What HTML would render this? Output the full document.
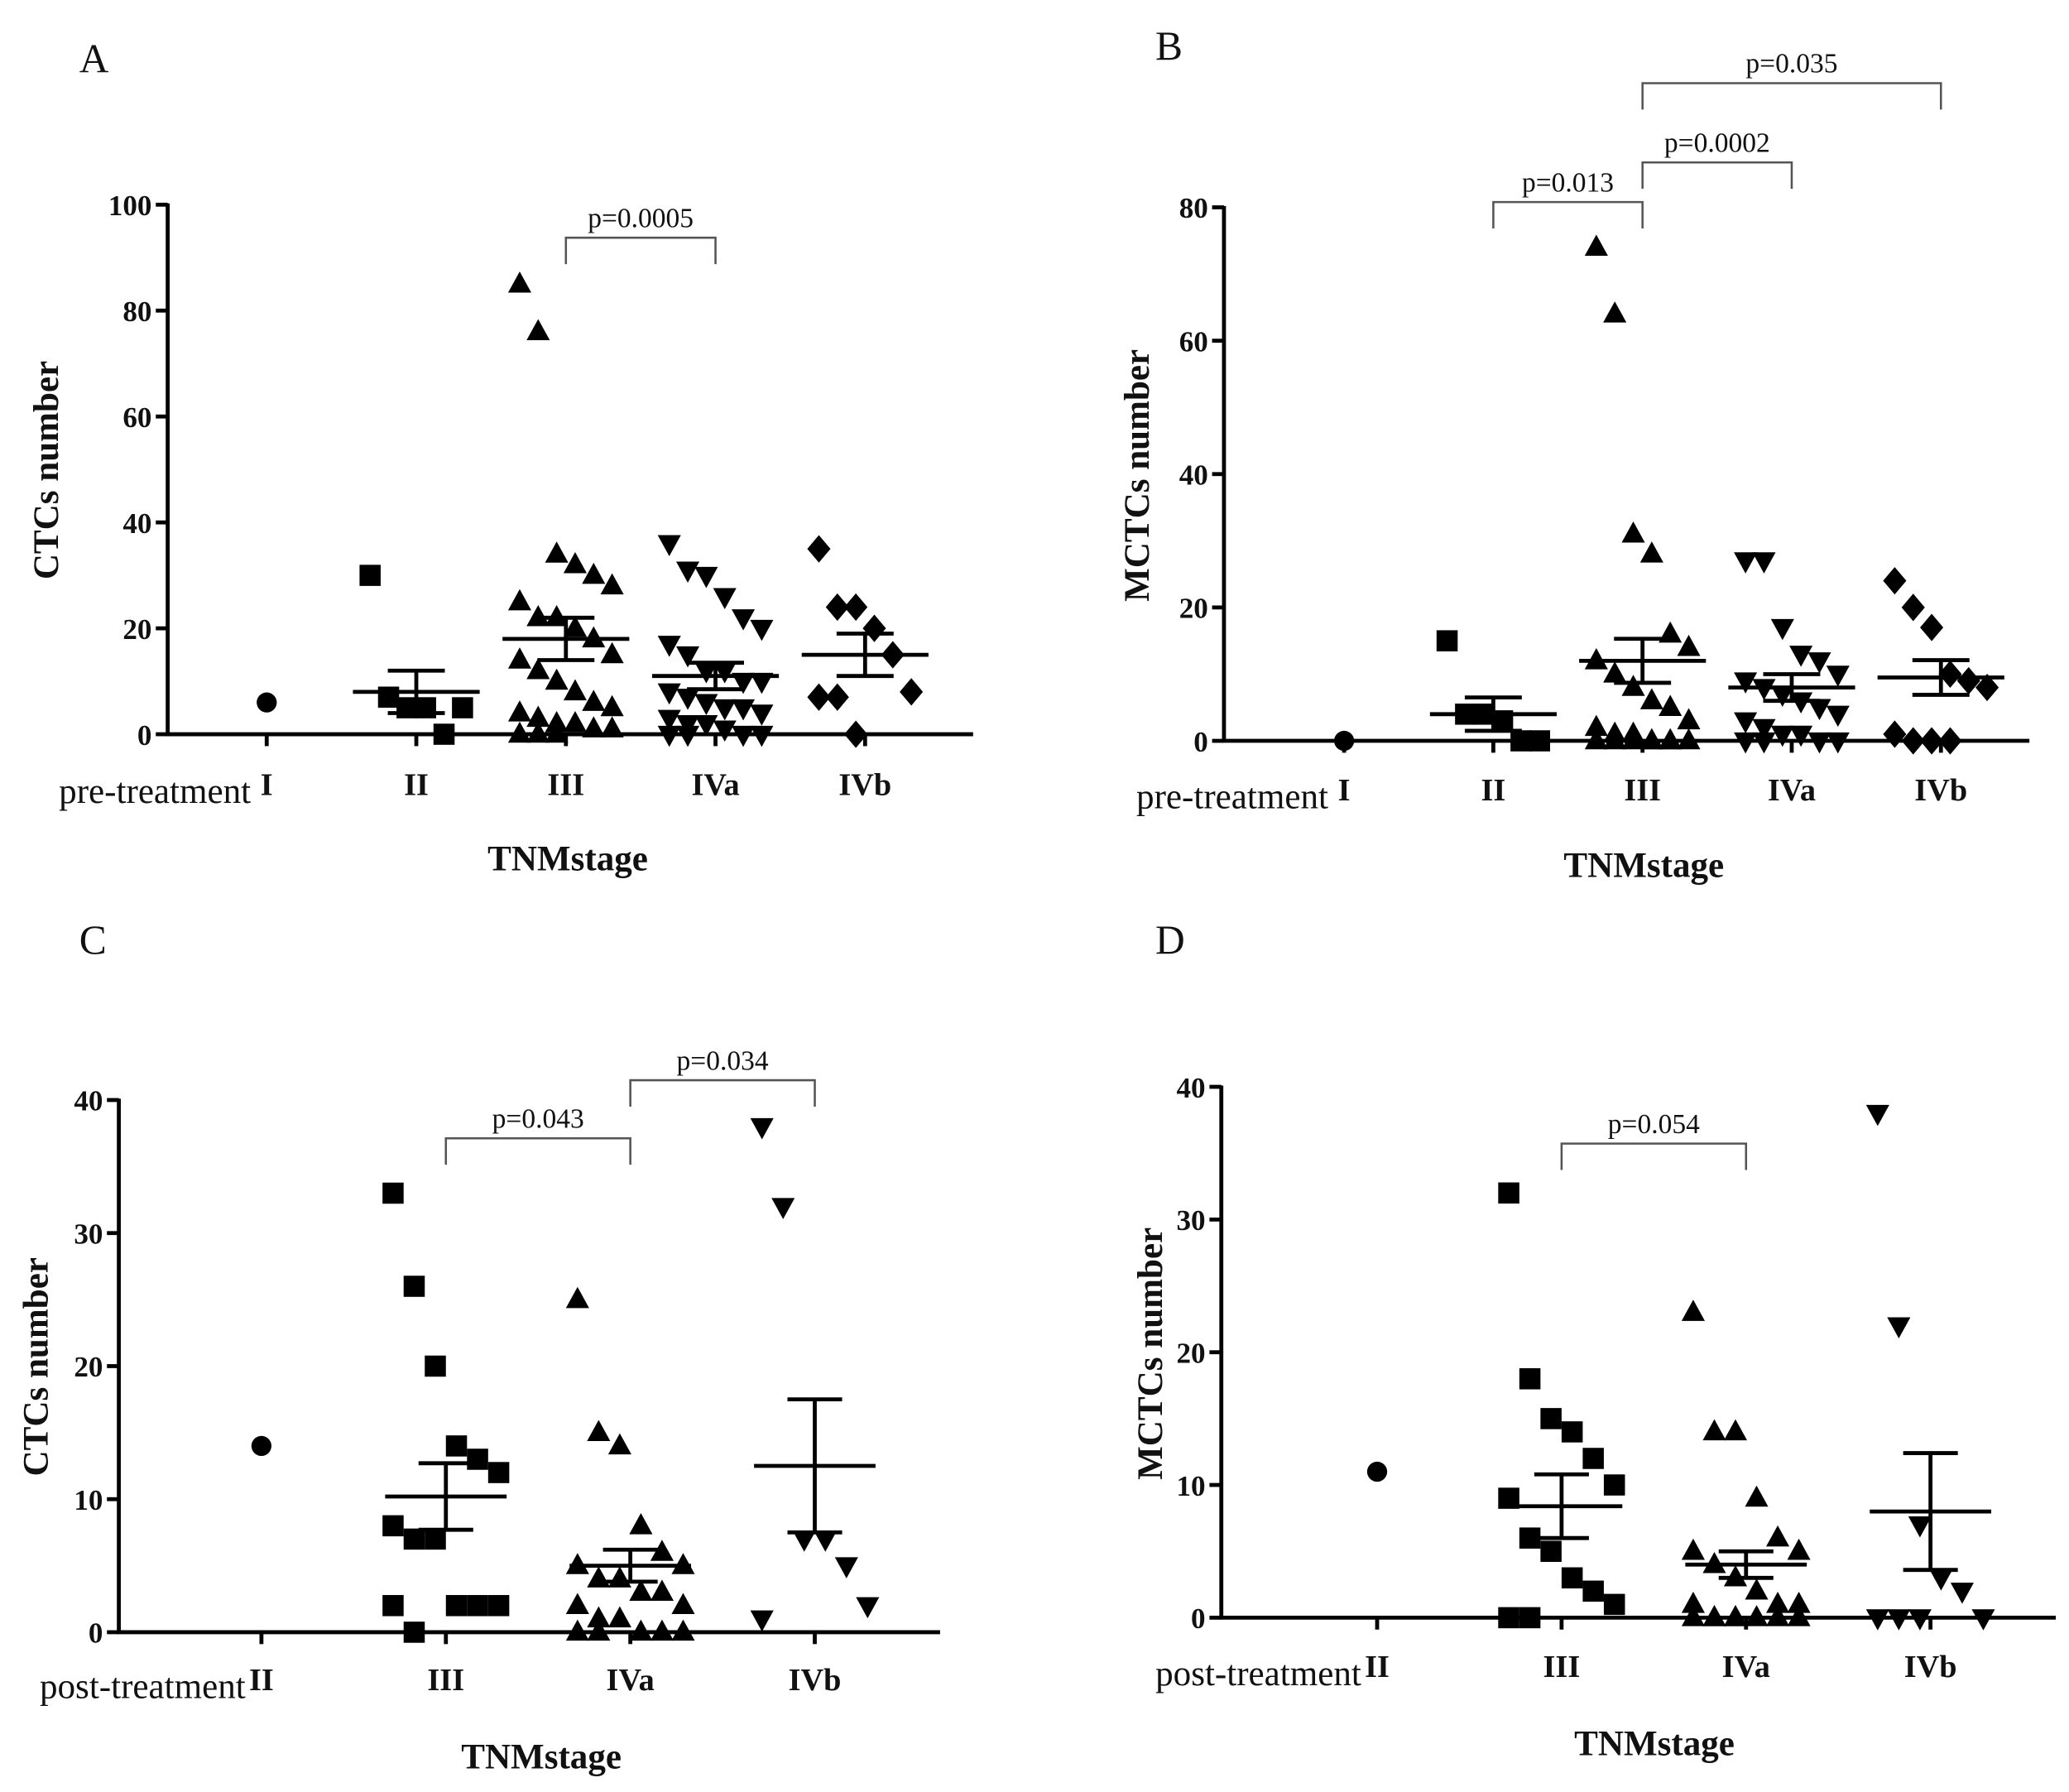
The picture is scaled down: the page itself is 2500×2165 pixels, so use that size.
<!DOCTYPE html>
<html><head><meta charset="utf-8"><style>
html,body{margin:0;padding:0;background:#fff;}
svg{display:block;}
text{font-family:"Liberation Serif",serif;fill:#111;}
.b{font-weight:bold;}
</style></head><body>
<svg id="chart" width="2500" height="2165" viewBox="0 0 1567 1357" preserveAspectRatio="none" xmlns="http://www.w3.org/2000/svg"></svg>
<script>
// ---- Panel data ----
const catsA = ["I","II","III","IVa","IVb"];
const valsA = [[6],[30,7,5,5,0,5],[85,76,34,32,30,28,25,22,22,20,18,15,14,12,10,8,6,5,4,3,2,2,1,1,0,0,0],[36,31,30,26,22,20,17,15,12,12,10,10,8,7,6,5,5,4,3,2,2,1,0,0,0,0],[35,24,24,20,15,8,7,7,0]];
const meanA = [null,8,18,11,15];
const semA = [null,4,4,2.5,4];
const ticksA = [0,20,40,60,80,100];

const catsB = ["I","II","III","IVa","IVb"];
const valsB = [[0],[15,4,4,3,0,0],[74,64,31,28,16,14,12,10,8,6,5,3,2,1,1,0,0,0,0,0,0,0,0],[27,27,17,13,12,10,9,8,7,6,5,4,3,2,1,1,0,0,0,0],[24,20,17,10,9,8,1,0,0,0]];
const meanB = [null,4,12,8,9.5];
const semB = [null,2.5,3.3,2,2.6];
const ticksB = [0,20,40,60,80];

const catsC = ["II","III","IVa","IVb"];
const valsC = [[14],[33,26,20,14,13,12,8,7,7,2,2,2,2,0],[25,15,14,8,6,5,5,4,4,3,3,2,2,1,1,0,0,0,0,0],[38,32,7,7,5,2,1]];
const meanC = [null,10.2,5,12.5];
const semC = [null,2.5,1.2,5];
const ticksC = [0,10,20,30,40];

const catsD = ["II","III","IVa","IVb"];
const valsD = [[11],[32,18,15,14,12,10,9,6,5,3,2,1,0,0],[23,14,14,9,6,5,5,4,3,2,1,1,1,0,0,0,0,0,0,0,0],[38,22,7,3,2,0,0,0,0]];
const meanD = [null,8.4,4,8];
const semD = [null,2.4,1,4.4];
const ticksD = [0,10,20,30,40];

const NS="http://www.w3.org/2000/svg";
const svg=document.getElementById('chart');
function mk(tag,attrs,parent,txt){const e=document.createElementNS(NS,tag);for(const k in attrs)e.setAttribute(k,attrs[k]);if(txt!==undefined)e.textContent=txt;(parent||svg).appendChild(e);return e;}

function marker(g,shape,x,y,s){
  let e;
  if(shape==='circle'){e=mk('circle',{cx:x,cy:y,r:s*0.95,fill:'#000'},g);}
  else if(shape==='square'){e=mk('rect',{x:x-s,y:y-s,width:2*s,height:2*s,fill:'#000'},g);}
  else if(shape==='up'){e=mk('polygon',{points:`${x},${y-s*1.2} ${x-s*1.1},${y+s*0.8} ${x+s*1.1},${y+s*0.8}`,fill:'#000'},g);}
  else if(shape==='down'){e=mk('polygon',{points:`${x},${y+s*1.2} ${x-s*1.1},${y-s*0.8} ${x+s*1.1},${y-s*0.8}`,fill:'#000'},g);}
  else {e=mk('polygon',{points:`${x},${y-s*1.3} ${x+s*1.1},${y} ${x},${y+s*1.3} ${x-s*1.1},${y}`,fill:'#000'},g);}
  
  
}

function panel(cfg){
  const g=mk('g',{});
  
  
  const yMax=cfg.ticks[cfg.ticks.length-1];
  const yS=v=>cfg.y0+(cfg.yTop-cfg.y0)*v/yMax;
  const xS=i=>cfg.xFirst+i*cfg.step;
  const ya=mk('line',{x1:cfg.ax,y1:cfg.y0+1,x2:cfg.ax,y2:cfg.yTop-1,stroke:'#000','stroke-width':3},g);
  
  const xa=mk('line',{x1:cfg.ax-1.5,y1:cfg.y0,x2:cfg.axEnd,y2:cfg.y0,stroke:'#000','stroke-width':3},g);
  
  cfg.ticks.forEach(t=>{
    const y=yS(t);
    mk('line',{x1:cfg.ax-9,y1:y,x2:cfg.ax,y2:y,stroke:'#000','stroke-width':3},g);
    const tl=mk('text',{x:cfg.ax-12,y:y+8,'text-anchor':'end','font-size':22,class:'b'},g,String(t));
    
  });
  cfg.cats.forEach((c,i)=>{
    const x=xS(i);
    mk('line',{x1:x,y1:cfg.y0,x2:x,y2:cfg.y0+9,stroke:'#000','stroke-width':3},g);
    const cl=mk('text',{x:x,y:cfg.catY,'text-anchor':'middle','font-size':24,class:'b'},g,c);
    
    const vals=cfg.vals[i];
    vals.forEach((v,j)=>{
      const n=Math.min(vals.length,6);
      const off=vals.length===1?0:((j%n)-(n-1)/2)*cfg.jit;
      marker(g,cfg.shapes[i],x+off,yS(v),cfg.ms);
    });
    if(cfg.mean[i]!==null){
      const m=cfg.mean[i],s=cfg.sem[i];
      const ml=mk('line',{x1:x-cfg.mw,y1:yS(m),x2:x+cfg.mw,y2:yS(m),stroke:'#000','stroke-width':3},g);
      
      mk('line',{x1:x,y1:yS(m-s),x2:x,y2:yS(m+s),stroke:'#000','stroke-width':3},g);
      mk('line',{x1:x-cfg.mw*0.45,y1:yS(m+s),x2:x+cfg.mw*0.45,y2:yS(m+s),stroke:'#000','stroke-width':3},g);
      mk('line',{x1:x-cfg.mw*0.45,y1:yS(m-s),x2:x+cfg.mw*0.45,y2:yS(m-s),stroke:'#000','stroke-width':3},g);
    }
  });
  cfg.brackets.forEach(b=>{
    const x1=xS(b.a),x2=xS(b.b);
    const p=mk('polyline',{points:`${x1},${b.y+20} ${x1},${b.y} ${x2},${b.y} ${x2},${b.y+20}`,fill:'none',stroke:'#555','stroke-width':1.6},g);
    
    const t=mk('text',{x:(x1+x2)/2,y:b.y-8,'text-anchor':'middle','font-size':21},g,b.t);
    
  });
  const L=mk('text',{x:cfg.lx,y:cfg.ly,'font-size':31},g,cfg.letter);
  
  const yt=mk('text',{x:0,y:0,transform:`translate(${cfg.ytx},${cfg.yty}) rotate(-90)`,'text-anchor':'middle','font-size':27,class:'b'},g,cfg.ytitle);
  
  const xt=mk('text',{x:cfg.xtx,y:cfg.xty,'text-anchor':'middle','font-size':27,class:'b'},g,'TNMstage');
  
  const tr=mk('text',{x:cfg.xFirst-12,y:cfg.catY+6,'text-anchor':'end','font-size':27},g,cfg.treat);
  
}

panel({letter:'A',cats:catsA,vals:valsA,mean:meanA,sem:semA,ticks:ticksA,shapes:['circle','square','up','down','diamond'],
  ax:127,axEnd:737,y0:556,yTop:155,xFirst:202,step:113.3,catY:602,ms:8,jit:14,mw:48,
  brackets:[{a:2,b:3,y:180,t:'p=0.0005'}],lx:60,ly:55,ytx:44,yty:356,ytitle:'CTCs number',xtx:430,xty:659,treat:'pre-treatment'});
panel({letter:'B',cats:catsB,vals:valsB,mean:meanB,sem:semB,ticks:ticksB,shapes:['circle','square','up','down','diamond'],
  ax:927,axEnd:1537,y0:561,yTop:157,xFirst:1018,step:113,catY:606,ms:8,jit:14,mw:48,
  brackets:[{a:1,b:2,y:153,t:'p=0.013'},{a:2,b:3,y:123,t:'p=0.0002'},{a:2,b:4,y:63,t:'p=0.035'}],lx:875,ly:45,ytx:870,yty:360,ytitle:'MCTCs number',xtx:1245,xty:664,treat:'pre-treatment'});
panel({letter:'C',cats:catsC,vals:valsC,mean:meanC,sem:semC,ticks:ticksC,shapes:['circle','square','up','down'],
  ax:90,axEnd:712,y0:1236,yTop:833,xFirst:198,step:139.7,catY:1280,ms:8,jit:16,mw:46,
  brackets:[{a:1,b:2,y:862,t:'p=0.043'},{a:2,b:3,y:818,t:'p=0.034'}],lx:60,ly:722,ytx:36,yty:1035,ytitle:'CTCs number',xtx:410,xty:1339,treat:'post-treatment'});
panel({letter:'D',cats:catsD,vals:valsD,mean:meanD,sem:semD,ticks:ticksD,shapes:['circle','square','up','down'],
  ax:925,axEnd:1557,y0:1225,yTop:823,xFirst:1043,step:139.7,catY:1270,ms:8,jit:16,mw:46,
  brackets:[{a:1,b:2,y:866,t:'p=0.054'}],lx:875,ly:722,ytx:880,yty:1025,ytitle:'MCTCs number',xtx:1253,xty:1329,treat:'post-treatment'});
</script>
</body></html>
